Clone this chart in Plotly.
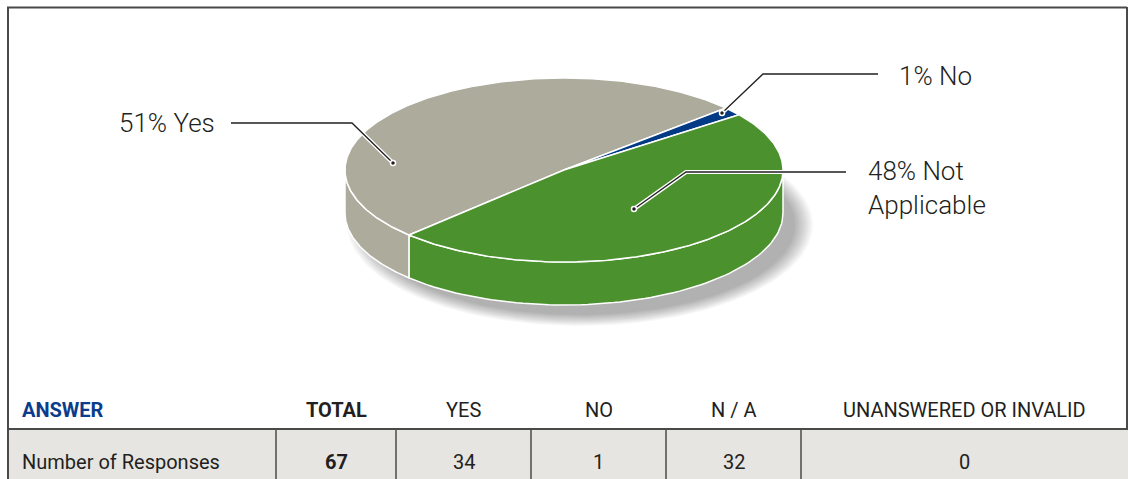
import numpy as np
import plotly.graph_objects as go

# ---------------- data ----------------
answers = ["Yes", "No", "Not Applicable"]
responses = [34, 1, 32]
unanswered = 0
slice_colors = ["#ADAB9C", "#023A86", "#4B912E"]
label_text = ["{p}% Yes", "{p}% No", "{p}% Not<br>Applicable"]

table_headers = ["ANSWER", "TOTAL", "YES", "NO", "N / A", "UNANSWERED OR INVALID"]
row_label = "Number of Responses"

total = sum(responses) + unanswered
table_values = [row_label, total] + responses + [unanswered]

# ---------------- styling / geometry ----------------
W, H = 1128, 479
CX, CY, RX, RY, DEPTH = 564, 170, 219, 92, 43
START = 135.0  # degrees (screen parametric angle, clockwise)

LABEL_FONT = dict(family="Roboto, Liberation Sans, sans-serif", size=26, color="#231F20", weight=300)
TABLE_FONT = "Roboto, Liberation Sans, sans-serif"

label_pos = [(117, 123), (897, 76), (866, 188)]
leader_paths = [
    [(231, 123), (352, 123), (393, 163)],
    [(878, 74), (763, 74), (722, 113)],
    [(846, 172), (686, 172), (634, 209)],
]
col_edges = [8, 276, 396, 531, 666, 801, 1128]

fig = go.Figure()


def ell(t_deg, dy=0.0, cx=CX, cy=CY, rx=RX, ry=RY):
    t = np.radians(t_deg)
    return cx + rx * np.cos(t), cy + ry * np.sin(t) + dy


# ---- shadow ----
for i in range(12):
    k = i / 11.0
    sx, sy = ell(np.linspace(0, 360, 181), cx=CX + 16, cy=CY + DEPTH + 12,
                 rx=RX - 4 + 18 * k, ry=RY - 2 + 11 * k)
    fig.add_trace(go.Scatter(x=sx, y=sy, mode="lines", fill="toself",
                             fillcolor="rgba(0,0,0,0.028)", line=dict(width=0),
                             hoverinfo="skip", showlegend=False))

# ---- slice angles ----
angles = []
a = START
for v in responses:
    sweep = 360.0 * v / total
    angles.append((a, a + sweep))
    a += sweep

# ---- side walls ----
for (a0, a1), col in zip(angles, slice_colors):
    for k in (-360, 0, 360, 720):
        lo, hi = max(a0, k), min(a1, k + 180)
        if hi - lo <= 0.01:
            continue
        t = np.linspace(lo, hi, 80)
        tx, ty = ell(t)
        bx, by = ell(t[::-1], DEPTH)
        xs = np.concatenate([tx, bx, tx[:1]])
        ys = np.concatenate([ty, by, ty[:1]])
        fig.add_trace(go.Scatter(x=xs, y=ys, mode="lines", fill="toself",
                                 fillcolor=col, line=dict(color="white", width=1.5),
                                 hoverinfo="skip", showlegend=False))

# ---- top surfaces ----
for (a0, a1), col, name in zip(angles, slice_colors, answers):
    n = max(6, int((a1 - a0) * 1.5))
    t = np.linspace(a0, a1, n)
    ex, ey = ell(t)
    xs = np.concatenate([[CX], ex, [CX]])
    ys = np.concatenate([[CY], ey, [CY]])
    fig.add_trace(go.Scatter(x=xs, y=ys, mode="lines", fill="toself",
                             fillcolor=col, line=dict(color="white", width=1.5),
                             name=name, hoverinfo="name", showlegend=False))

# ---- leader lines & labels ----
for path, pos, txt, v in zip(leader_paths, label_pos, label_text, responses):
    px = [p[0] for p in path]
    py = [p[1] for p in path]
    fig.add_trace(go.Scatter(x=px, y=py, mode="lines", line=dict(color="white", width=4),
                             hoverinfo="skip", showlegend=False))
    fig.add_trace(go.Scatter(x=px, y=py, mode="lines", line=dict(color="#231F20", width=1.3),
                             hoverinfo="skip", showlegend=False))
    fig.add_trace(go.Scatter(x=[px[-1]], y=[py[-1]], mode="markers",
                             marker=dict(size=5, color="#231F20", line=dict(color="white", width=1.5)),
                             hoverinfo="skip", showlegend=False))
    pct = int(round(100.0 * v / total))
    fig.add_annotation(x=pos[0], y=pos[1], text=txt.format(p=pct), showarrow=False,
                       xanchor="left", yanchor="middle", align="left", font=LABEL_FONT)

# ---- table ----
shapes = []
shapes.append(dict(type="rect", x0=8, x1=W, y0=429, y1=H, fillcolor="#E6E5E1",
                   line=dict(width=0), layer="below"))
line_col = "#4A4A4A"
shapes.append(dict(type="line", x0=7, x1=1127, y0=7.5, y1=7.5, line=dict(color=line_col, width=2)))
shapes.append(dict(type="line", x0=8, x1=8, y0=7, y1=H, line=dict(color=line_col, width=2)))
shapes.append(dict(type="line", x0=1127, x1=1127, y0=7, y1=429, line=dict(color=line_col, width=2)))
shapes.append(dict(type="line", x0=8, x1=W, y0=429, y1=429, line=dict(color=line_col, width=2)))
for xe in col_edges[1:-1]:
    shapes.append(dict(type="line", x0=xe, x1=xe, y0=429, y1=H, line=dict(color=line_col, width=1.5)))

for i, (hdr, val) in enumerate(zip(table_headers, table_values)):
    if i == 0:
        xa, xanchor = 20, "left"
        hfont = dict(family=TABLE_FONT, size=20, color="#0B3D8C", weight="bold")
        vfont = dict(family=TABLE_FONT, size=20, color="#231F20")
    else:
        xa, xanchor = (col_edges[i] + col_edges[i + 1]) / 2, "center"
        bold = (i == 1)
        hfont = dict(family=TABLE_FONT, size=20, color="#231F20", weight="bold" if bold else "normal")
        vfont = dict(family=TABLE_FONT, size=20, color="#231F20", weight="bold" if bold else "normal")
    fig.add_annotation(x=xa, y=410, text=str(hdr), showarrow=False, xanchor=xanchor,
                       yanchor="middle", font=hfont)
    fig.add_annotation(x=xa, y=462, text=str(val), showarrow=False, xanchor=xanchor,
                       yanchor="middle", font=vfont)

fig.update_layout(
    width=W, height=H,
    margin=dict(l=0, r=0, t=0, b=0),
    paper_bgcolor="white", plot_bgcolor="white",
    xaxis=dict(range=[0, W], visible=False, fixedrange=True),
    yaxis=dict(range=[H, 0], visible=False, fixedrange=True),
    shapes=shapes,
    showlegend=False,
)

fig.write_html("out.html",
               config={"displayModeBar": False},
               post_script="document.body.style.margin='0';document.body.style.overflow='hidden';")
